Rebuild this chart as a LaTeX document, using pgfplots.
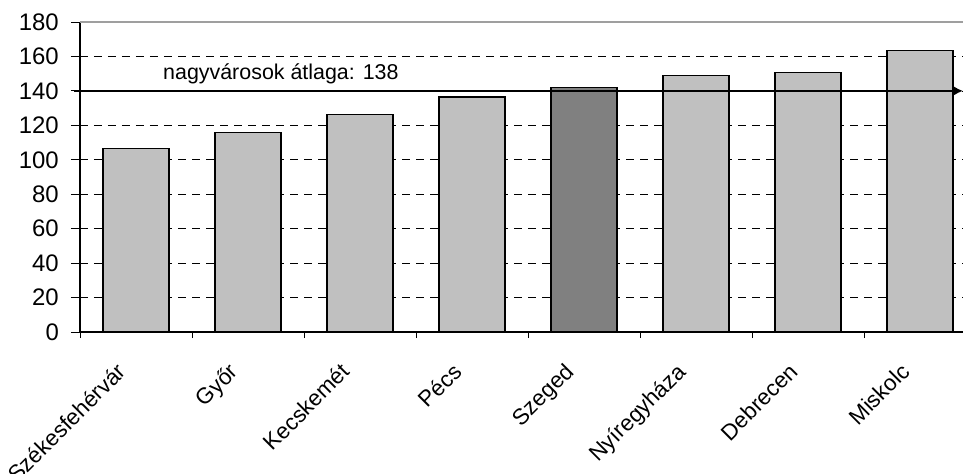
\documentclass[border=0pt]{standalone}
\usepackage{fontspec}
\setmainfont{Liberation Sans}
\usepackage{pgfplots}
\pgfplotsset{compat=1.18}
\usetikzlibrary{arrows.meta}
\definecolor{barlight}{RGB}{192,192,192}
\definecolor{bardark}{RGB}{128,128,128}
\newcommand{\chartfont}{\fontsize{22.5}{26}\selectfont}
\begin{document}
\begin{tikzpicture}
\begin{axis}[
  scale only axis, width=883bp, height=310bp,
  xmin=-0.5, xmax=7.384, ymin=0, ymax=180,
  axis x line*=bottom, axis y line*=left,
  axis line style={-, black, line width=1.2bp},
  clip=false,
  ytick={0,20,...,180},
  xtick={0,...,7},
  xticklabels={Székesfehérvár,Győr,Kecskemét,Pécs,Szeged,Nyíregyháza,Debrecen,Miskolc},
  major x tick style={draw=none},
  minor xtick={-0.5,0.5,...,6.5},
  tick align=outside,
  major tick length=9bp, minor tick length=6bp,
  tick style={black, line width=0.8bp},
  ymajorgrids,
  grid style={black, line width=0.7bp, dash pattern=on 8bp off 6bp},
  /pgf/number format/assume math mode=true,
  xticklabel style={font=\chartfont, rotate=45, anchor=north east, inner sep=0pt, xshift=-29bp, yshift=0bp},
  yticklabel style={font=\fontsize{24}{28}\selectfont, inner sep=0pt, xshift=-12bp},
]
\addplot[ybar, bar shift=0pt, bar width=0.59, fill=barlight, draw=black, line width=1.2bp]
  coordinates {(0,106.5) (1,116) (2,126.5) (3,136.5) (5,149) (6,150.5) (7,163.5)};
\addplot[ybar, bar shift=0pt, bar width=0.59, fill=bardark, draw=black, line width=1.2bp]
  coordinates {(4,142)};
\addplot[black, line width=2bp, -{Latex[length=9bp,width=9bp]}]
  coordinates {(-0.55,140) (7.384,140)};
\draw[gray!75, line width=1.3bp] (rel axis cs:0,1) -- (rel axis cs:1,1);
\node[anchor=base west, inner sep=0pt, font=\fontsize{21.5}{26}\selectfont] at (axis cs:0.241,146.7) {nagyvárosok átlaga: 138};
\coordinate (o) at (rel axis cs:0,0);
\coordinate (t) at (rel axis cs:1,1);
\end{axis}
\pgfresetboundingbox
\path ([shift={(-80bp,-142bp)}]o) rectangle ([shift={(0bp,22bp)}]t);
\end{tikzpicture}
\end{document}
